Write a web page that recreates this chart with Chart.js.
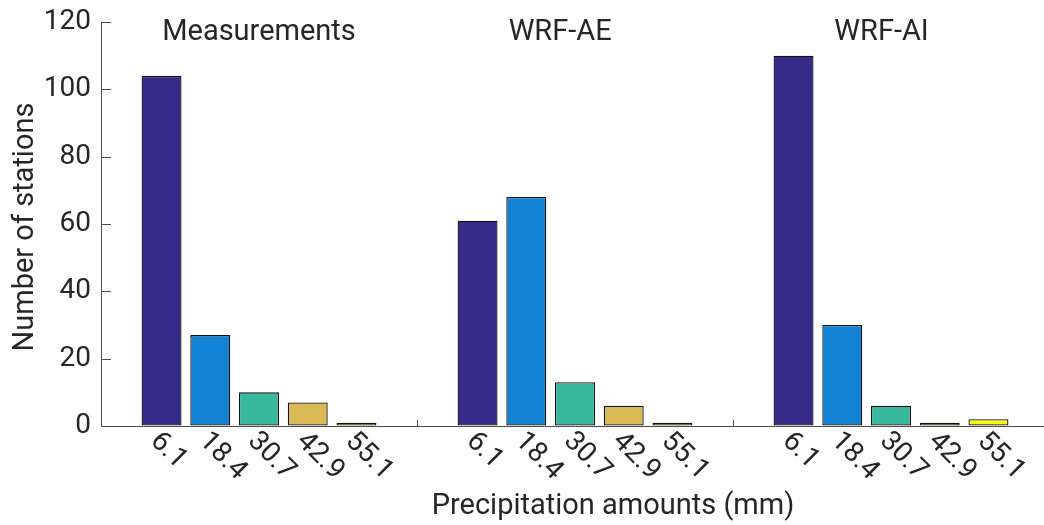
<!DOCTYPE html>
<html>
<head>
<meta charset="utf-8">
<script src="https://cdn.jsdelivr.net/npm/chart.js@4/dist/chart.umd.min.js"></script>
<style>
  html, body { margin: 0; padding: 0; background: #fff; overflow: hidden; }
  #wrap { width: 1050px; height: 525px; }
</style>
</head>
<body>
<div id="wrap"><canvas id="c" width="1050" height="525"></canvas></div>
<script>
// Station counts per precipitation bin, for each data source
const groups = ['Measurements', 'WRF-AE', 'WRF-AI'];
const binLabels = ['6.1', '18.4', '30.7', '42.9', '55.1'];
const bin1 = [104, 61, 110];
const bin2 = [27, 68, 30];
const bin3 = [10, 13, 6];
const bin4 = [7, 6, 1];
const bin5 = [1, 1, 2];
const yTicks = [0, 20, 40, 60, 80, 100, 120];

const binColors = ['#352a87', '#1283d4', '#38b89d', '#d9ba56', '#f9fb0e'];
const series = [bin1, bin2, bin3, bin4, bin5];

const FONT = 'Roboto, "Noto Sans", sans-serif';
const TEXT = '#262626';
const AXIS = '#4d4d4d';

const decorations = {
  id: 'decorations',
  afterDraw(chart) {
    const ctx = chart.ctx;
    const xs = chart.scales.x;
    const ys = chart.scales.y;
    const area = chart.chartArea;
    ctx.save();

    // inward tick marks on the y axis
    ctx.strokeStyle = AXIS;
    ctx.lineWidth = 1;
    yTicks.forEach(v => {
      const y = Math.round(ys.getPixelForValue(v)) + 0.5;
      ctx.beginPath();
      ctx.moveTo(area.left, y);
      ctx.lineTo(area.left + 10, y);
      ctx.stroke();
    });
    // inward tick marks at the boundaries between groups
    for (let i = 0; i < groups.length - 1; i++) {
      const x = Math.round((xs.getPixelForValue(i) + xs.getPixelForValue(i + 1)) / 2) + 0.5;
      ctx.beginPath();
      ctx.moveTo(x, area.bottom);
      ctx.lineTo(x, area.bottom - 6);
      ctx.stroke();
    }

    // group names above the bars
    ctx.fillStyle = TEXT;
    ctx.font = '29px ' + FONT;
    ctx.textAlign = 'center';
    ctx.textBaseline = 'alphabetic';
    const shift = [0, -0.047, -0.03];
    const step = xs.getPixelForValue(1) - xs.getPixelForValue(0);
    groups.forEach((g, i) => {
      ctx.fillText(g, xs.getPixelForValue(i) + shift[i] * step, 40);
    });

    // rotated bin labels under each bar
    ctx.font = '28px ' + FONT;
    ctx.textAlign = 'left';
    ctx.textBaseline = 'middle';
    chart.data.datasets.forEach((ds, d) => {
      const meta = chart.getDatasetMeta(d);
      meta.data.forEach(bar => {
        ctx.save();
        ctx.translate(bar.x - 7, area.bottom + 11);
        ctx.rotate(Math.PI / 4);
        ctx.fillText(binLabels[d], 0, 0);
        ctx.restore();
      });
    });

    // axis titles
    ctx.font = '29px ' + FONT;
    ctx.textAlign = 'center';
    ctx.textBaseline = 'alphabetic';
    ctx.fillText('Precipitation amounts (mm)', 613, 514);
    ctx.save();
    ctx.translate(33, (area.top + area.bottom) / 2 + 3);
    ctx.rotate(-Math.PI / 2);
    ctx.fillText('Number of stations', 0, 0);
    ctx.restore();

    ctx.restore();
  }
};

new Chart(document.getElementById('c'), {
  type: 'bar',
  data: {
    labels: groups,
    datasets: series.map((vals, i) => ({
      label: binLabels[i],
      data: vals,
      backgroundColor: binColors[i],
      borderColor: '#111111',
      borderWidth: 1.3,
      borderSkipped: false,
      categoryPercentage: 0.771,
      barPercentage: 0.82
    }))
  },
  options: {
    responsive: false,
    animation: false,
    devicePixelRatio: 1,
    layout: { padding: { top: 22, right: 1, left: 0, bottom: 0 } },
    plugins: { legend: { display: false }, tooltip: { enabled: false } },
    scales: {
      x: {
        grid: { display: false },
        ticks: { display: false },
        border: { display: true, color: AXIS, width: 1 },
        afterFit(scale) { scale.height = 99; }
      },
      y: {
        min: 0,
        max: 120,
        afterBuildTicks(scale) { scale.ticks = yTicks.map(v => ({ value: v })); },
        ticks: {
          color: TEXT,
          font: { family: FONT, size: 28 },
          padding: 10
        },
        grid: { display: true, drawOnChartArea: false, drawTicks: false },
        border: { display: true, color: AXIS, width: 1 },
        afterFit(scale) {
          scale.width = 101;
          scale.paddingTop = 0;
          scale.paddingBottom = 0;
        }
      }
    }
  },
  plugins: [decorations]
});
</script>
</body>
</html>
